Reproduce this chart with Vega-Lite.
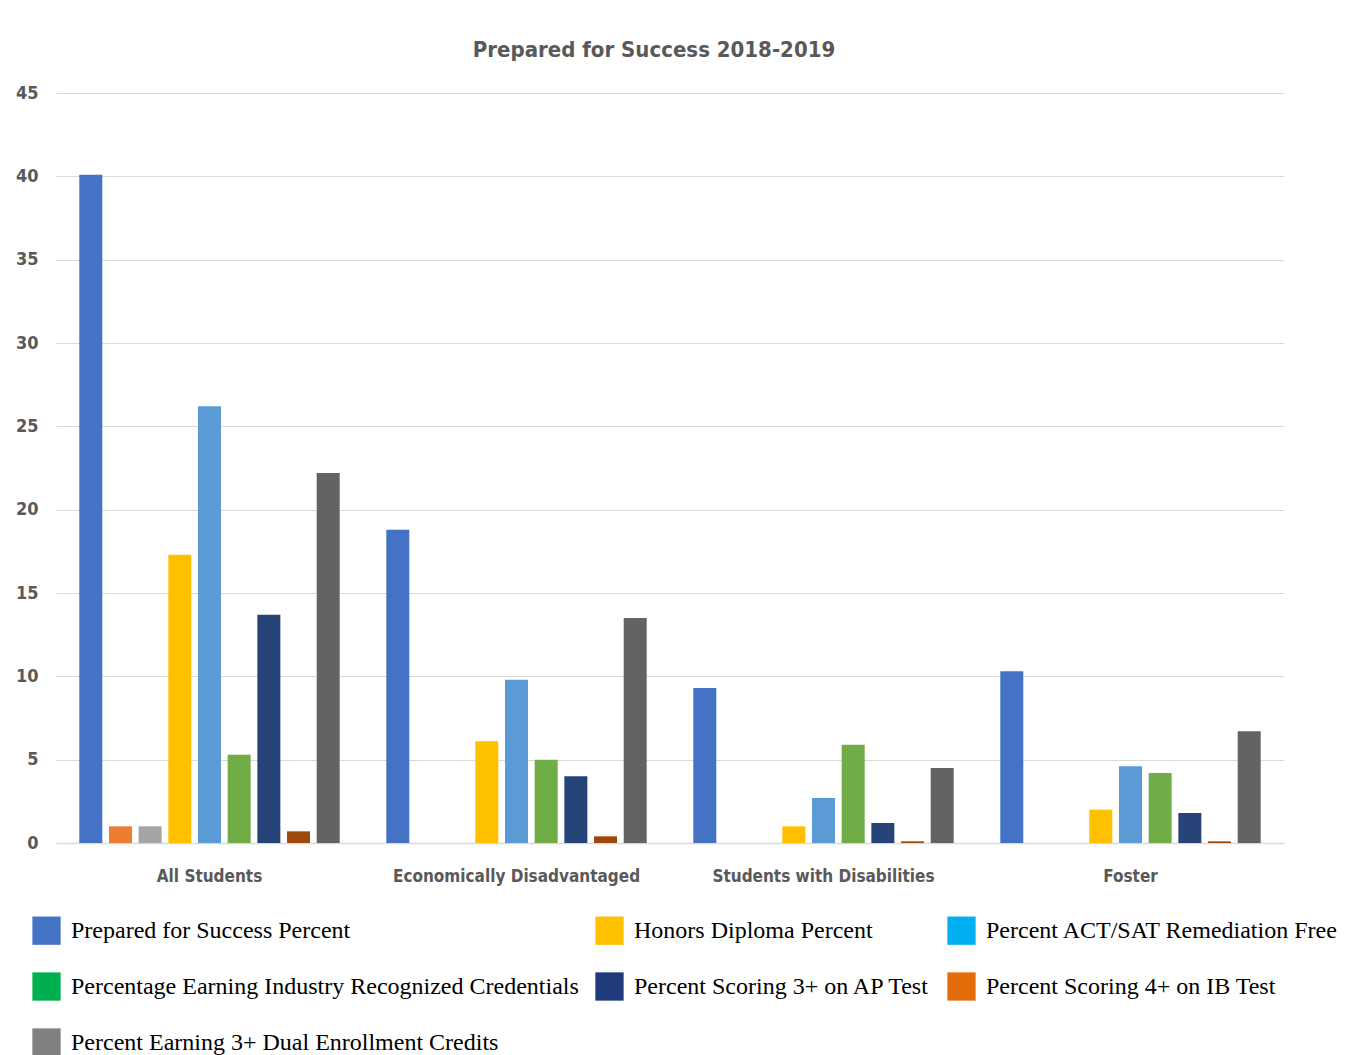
{
  "$schema": "https://vega.github.io/schema/vega-lite/v6.json",
  "width": 1228,
  "height": 750,
  "autosize": {"type": "none"},
  "padding": {"left": 56, "top": 93, "right": 81, "bottom": 212},
  "background": "white",
  "title": {
    "text": "Prepared for Success 2018-2019",
    "font": "DejaVu Sans Condensed",
    "fontSize": 22,
    "fontWeight": "bold",
    "color": "#595959",
    "anchor": "middle",
    "dx": -16,
    "dy": 21,
    "baseline": "alphabetic",
    "offset": 26
  },
  "data": {
    "values": [
      {"group": "All Students", "series": "Prepared for Success Percent", "value": 40.1},
      {"group": "All Students", "series": "Unlabeled series 2", "value": 1.0},
      {"group": "All Students", "series": "Unlabeled series 3", "value": 1.0},
      {"group": "All Students", "series": "Honors Diploma Percent", "value": 17.3},
      {"group": "All Students", "series": "Percent ACT/SAT Remediation Free", "value": 26.2},
      {"group": "All Students", "series": "Percentage Earning Industry Recognized Credentials", "value": 5.3},
      {"group": "All Students", "series": "Percent Scoring 3+ on AP Test", "value": 13.7},
      {"group": "All Students", "series": "Percent Scoring 4+ on IB Test", "value": 0.7},
      {"group": "All Students", "series": "Percent Earning 3+ Dual Enrollment Credits", "value": 22.2},
      {"group": "Economically Disadvantaged", "series": "Prepared for Success Percent", "value": 18.8},
      {"group": "Economically Disadvantaged", "series": "Honors Diploma Percent", "value": 6.1},
      {"group": "Economically Disadvantaged", "series": "Percent ACT/SAT Remediation Free", "value": 9.8},
      {"group": "Economically Disadvantaged", "series": "Percentage Earning Industry Recognized Credentials", "value": 5.0},
      {"group": "Economically Disadvantaged", "series": "Percent Scoring 3+ on AP Test", "value": 4.0},
      {"group": "Economically Disadvantaged", "series": "Percent Scoring 4+ on IB Test", "value": 0.4},
      {"group": "Economically Disadvantaged", "series": "Percent Earning 3+ Dual Enrollment Credits", "value": 13.5},
      {"group": "Students with Disabilities", "series": "Prepared for Success Percent", "value": 9.3},
      {"group": "Students with Disabilities", "series": "Honors Diploma Percent", "value": 1.0},
      {"group": "Students with Disabilities", "series": "Percent ACT/SAT Remediation Free", "value": 2.7},
      {"group": "Students with Disabilities", "series": "Percentage Earning Industry Recognized Credentials", "value": 5.9},
      {"group": "Students with Disabilities", "series": "Percent Scoring 3+ on AP Test", "value": 1.2},
      {"group": "Students with Disabilities", "series": "Percent Scoring 4+ on IB Test", "value": 0.1},
      {"group": "Students with Disabilities", "series": "Percent Earning 3+ Dual Enrollment Credits", "value": 4.5},
      {"group": "Foster", "series": "Prepared for Success Percent", "value": 10.3},
      {"group": "Foster", "series": "Honors Diploma Percent", "value": 2.0},
      {"group": "Foster", "series": "Percent ACT/SAT Remediation Free", "value": 4.6},
      {"group": "Foster", "series": "Percentage Earning Industry Recognized Credentials", "value": 4.2},
      {"group": "Foster", "series": "Percent Scoring 3+ on AP Test", "value": 1.8},
      {"group": "Foster", "series": "Percent Scoring 4+ on IB Test", "value": 0.1},
      {"group": "Foster", "series": "Percent Earning 3+ Dual Enrollment Credits", "value": 6.7}
    ]
  },
  "encoding": {
    "x": {
      "field": "group",
      "type": "nominal",
      "sort": ["All Students", "Economically Disadvantaged", "Students with Disabilities", "Foster"],
      "scale": {"paddingInner": 0.13, "paddingOuter": 0.065},
      "axis": {
        "title": null,
        "labelAngle": 0,
        "labelFont": "DejaVu Sans Condensed",
        "labelFontSize": 17,
        "labelFontWeight": "bold",
        "labelColor": "#595959",
        "labelPadding": 25,
        "labelLimit": 0,
        "ticks": false,
        "domainColor": "#d9d9d9",
        "domainWidth": 1.5,
        "grid": false
      }
    },
    "xOffset": {
      "field": "series",
      "type": "nominal",
      "scale": {
        "domain": ["Prepared for Success Percent", "Unlabeled series 2", "Unlabeled series 3", "Honors Diploma Percent", "Percent ACT/SAT Remediation Free", "Percentage Earning Industry Recognized Credentials", "Percent Scoring 3+ on AP Test", "Percent Scoring 4+ on IB Test", "Percent Earning 3+ Dual Enrollment Credits"],
        "paddingInner": 0.225,
        "paddingOuter": 0.1125
      }
    },
    "y": {
      "field": "value",
      "type": "quantitative",
      "scale": {"domain": [0, 45], "nice": false},
      "axis": {
        "title": null,
        "values": [0, 5, 10, 15, 20, 25, 30, 35, 40, 45],
        "labelFont": "DejaVu Sans Condensed",
        "labelFontSize": 18,
        "labelFontWeight": "bold",
        "labelColor": "#595959",
        "labelPadding": 18,
        "ticks": false,
        "domain": false,
        "gridColor": "#d9d9d9",
        "gridWidth": 1.2
      }
    }
  },
  "layer": [
    {
      "mark": {"type": "bar"},
      "encoding": {
        "color": {
          "field": "series",
          "type": "nominal",
          "scale": {
            "domain": ["Prepared for Success Percent", "Unlabeled series 2", "Unlabeled series 3", "Honors Diploma Percent", "Percent ACT/SAT Remediation Free", "Percentage Earning Industry Recognized Credentials", "Percent Scoring 3+ on AP Test", "Percent Scoring 4+ on IB Test", "Percent Earning 3+ Dual Enrollment Credits"],
            "range": ["#4472C4", "#ED7D31", "#A5A5A5", "#FFC000", "#5B9BD5", "#70AD47", "#264478", "#9E480E", "#636363"]
          },
          "legend": null
        }
      }
    },
    {
      "mark": {"type": "bar", "opacity": 0},
      "encoding": {
        "color": {
          "field": "series",
          "type": "nominal",
          "scale": {
            "domain": ["Prepared for Success Percent", "Honors Diploma Percent", "Percent ACT/SAT Remediation Free", "Percentage Earning Industry Recognized Credentials", "Percent Scoring 3+ on AP Test", "Percent Scoring 4+ on IB Test", "Percent Earning 3+ Dual Enrollment Credits"],
            "range": ["#4472C4", "#FFC000", "#00B0F0", "#00B050", "#1F3A7A", "#E46C0A", "#808080"]
          },
          "legend": {
            "title": null,
            "orient": "none",
            "legendX": -24,
            "legendY": 823,
            "columns": 3,
            "direction": "horizontal",
            "symbolType": "square",
            "symbolSize": 800,
            "symbolOpacity": 1,
            "symbolStrokeWidth": 0,
            "labelFont": "Liberation Serif, Times New Roman, serif",
            "labelFontSize": 24,
            "labelColor": "#000000",
            "labelOffset": 10,
            "labelLimit": 0,
            "columnPadding": 16,
            "rowPadding": 27,
            "padding": 0
          }
        }
      }
    }
  ],
  "resolve": {"scale": {"color": "independent"}},
  "config": {
    "view": {"stroke": null}
  }
}
